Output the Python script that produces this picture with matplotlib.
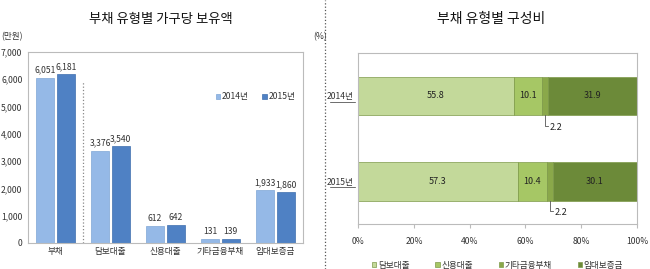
import matplotlib
matplotlib.use("Agg")
import matplotlib.pyplot as plt
from matplotlib.lines import Line2D
import numpy as np

plt.rcParams['font.family'] = ['Noto Sans CJK KR', 'DejaVu Sans']

# left chart data (만원)
categories = ['부채', '담보대출', '신용대출', '기타금융부채', '임대보증금']
amount_2014 = [6051, 3376, 612, 131, 1933]
amount_2015 = [6181, 3540, 642, 139, 1860]
years = ['2014년', '2015년']

# right chart data (%)
comp_labels = ['담보대출', '신용대출', '기타금융부채', '임대보증금']
comp_2014 = [55.8, 10.1, 2.2, 31.9]
comp_2015 = [57.3, 10.4, 2.2, 30.1]

blue_light = '#95B9E7'
blue_dark = '#4F81C4'
greens = ['#C3D99A', '#A6C765', '#8AA84A', '#6C8A39']
text_c = '#333333'
grid_c = '#BBBBBB'
fs = 6.2

fig = plt.figure(figsize=(6.5, 2.69), dpi=100)

# ---- left: 부채 유형별 가구당 보유액
ax = fig.add_axes([0.043, 0.097, 0.423, 0.71])
x = np.arange(len(categories))
w = 0.34
b1 = ax.bar(x - w / 2 - 0.02, amount_2014, w, color=blue_light, edgecolor='#7FA6D6', linewidth=0.5, label=years[0])
b2 = ax.bar(x + w / 2 + 0.02, amount_2015, w, color=blue_dark, edgecolor='#3F6FAE', linewidth=0.5, label=years[1])
for bars, vals in ((b1, amount_2014), (b2, amount_2015)):
    for r, v in zip(bars, vals):
        ax.text(r.get_x() + r.get_width() / 2, v + 120, f'{v:,}', ha='center', va='bottom',
                fontsize=fs, color=text_c)
ax.set_xlim(-0.5, len(categories) - 0.5)
ax.set_ylim(0, 7000)
ax.set_yticks(range(0, 7001, 1000))
ax.set_yticklabels([f'{v:,}' for v in range(0, 7001, 1000)])
ax.set_xticks(x)
ax.set_xticklabels(categories)
ax.tick_params(axis='both', labelsize=fs, colors=text_c, length=0, pad=3)
ax.tick_params(axis='y', pad=4)
for s in ax.spines.values():
    s.set_color(grid_c)
    s.set_linewidth(0.8)
ax.plot([0.5, 0.5], [0, 5900], ls=':', color='#888888', lw=0.9)
ax.legend(loc='upper right', bbox_to_anchor=(1.0, 0.83), ncol=2, frameon=False, fontsize=fs,
          handlelength=0.5, handleheight=0.5, handletextpad=0.2, columnspacing=1.6,
          labelcolor=text_c)
fig.text(0.247, 0.93, '부채 유형별 가구당 보유액', ha='center', va='center', fontsize=9.6, color='#111111')
fig.text(0.002, 0.865, '(만원)', ha='left', va='center', fontsize=fs, color=text_c)
fig.text(0.482, 0.865, '(%)', ha='left', va='center', fontsize=fs, color=text_c)

# ---- right: 부채 유형별 구성비
ax2 = fig.add_axes([0.551, 0.167, 0.429, 0.636])
rows = [comp_2014, comp_2015]
for i, vals in enumerate(rows):
    left = 0
    for j, v in enumerate(vals):
        ax2.barh(i, v, left=left, height=0.45, color=greens[j], edgecolor='#7E9A4A', linewidth=0.5,
                 label=comp_labels[j] if i == 0 else None)
        if v > 5:
            ax2.text(left + v / 2, i, f'{v}', ha='center', va='center', fontsize=6.5, color='#222222')
        else:
            xm = left + v / 2
            ax2.plot([xm, xm, xm + 1.2], [i + 0.225, i + 0.35, i + 0.35], color='#555555', lw=0.6)
            ax2.text(xm + 1.6, i + 0.37, f'{v}', ha='left', va='center', fontsize=6.5, color='#222222')
        left += v
ax2.set_xlim(0, 100)
ax2.set_ylim(1.5, -0.5)
ax2.set_xticks(range(0, 101, 20))
ax2.set_xticklabels([f'{v}%' for v in range(0, 101, 20)])
ax2.set_yticks([0, 1])
ax2.set_yticklabels(years)
ax2.tick_params(axis='x', labelsize=fs, colors=text_c, length=3, color=grid_c, pad=6)
ax2.tick_params(axis='y', labelsize=fs, colors=text_c, length=0, pad=3)
for s in ax2.spines.values():
    s.set_color(grid_c)
    s.set_linewidth(0.8)
ax2.legend(loc='upper center', bbox_to_anchor=(0.5, -0.17), ncol=4, frameon=False, fontsize=fs,
           handlelength=0.5, handleheight=0.5, handletextpad=0.2, columnspacing=3.0,
           labelcolor=text_c)
fig.text(0.755, 0.93, '부채 유형별 구성비', ha='center', va='center', fontsize=10, color='#111111')

# underline year labels
for yfig in (0.622, 0.306):
    fig.add_artist(Line2D([0.507, 0.546], [yfig, yfig], color=text_c, lw=0.5))

# dotted separator between panels
fig.add_artist(Line2D([0.5, 0.5], [0, 1], ls=':', color='#555555', lw=0.9))

fig.savefig('out.png', dpi=100)
